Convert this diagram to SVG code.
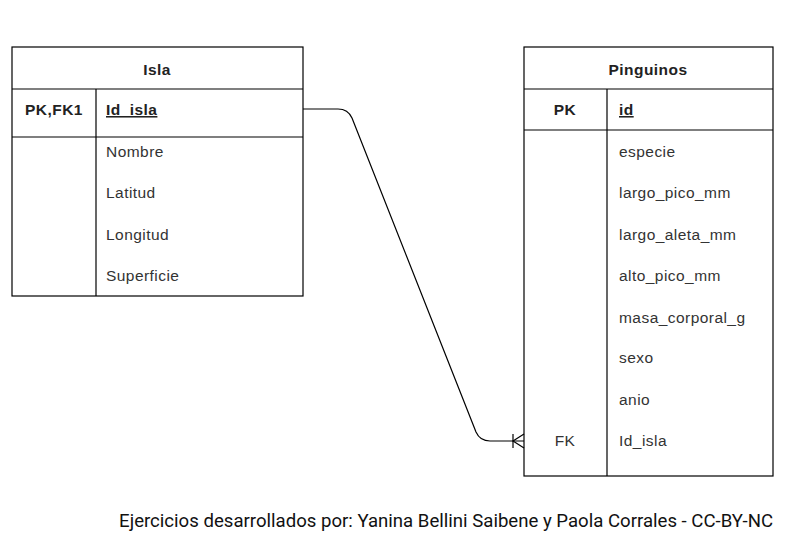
<svg xmlns="http://www.w3.org/2000/svg" width="785" height="540" viewBox="0 0 785 540">
<style>
.box{fill:#fff;stroke:#000;stroke-width:1.2}
.ln{stroke:#000;stroke-width:1.2;fill:none}
.t{font-family:"Liberation Sans",Arial,sans-serif;font-size:15.5px;letter-spacing:0.45px;fill:#333}
.b{font-weight:bold;fill:#222}
.c{text-anchor:middle}
.u{text-decoration:underline}
.cap{font-family:Roboto,"Liberation Sans",sans-serif;font-size:18.6px;fill:#111}
</style>
<rect width="785" height="540" fill="#fff"/>
<g id="isla">
<rect class="box" x="12" y="47" width="291" height="249"/>
<line class="ln" x1="12" y1="89" x2="303" y2="89"/>
<line class="ln" x1="12" y1="137" x2="303" y2="137"/>
<line class="ln" x1="96" y1="89" x2="96" y2="296"/>
<text class="t b c" x="157" y="75">Isla</text>
<text class="t b c" x="54" y="115">PK,FK1</text>
<text class="t b u" x="106" y="115">Id_isla</text>
<text class="t" x="106" y="157">Nombre</text>
<text class="t" x="106" y="198">Latitud</text>
<text class="t" x="106" y="240">Longitud</text>
<text class="t" x="106" y="281">Superficie</text>
</g>
<g id="pinguinos">
<rect class="box" x="524" y="47" width="249" height="429"/>
<line class="ln" x1="524" y1="89" x2="773" y2="89"/>
<line class="ln" x1="524" y1="130" x2="773" y2="130"/>
<line class="ln" x1="607" y1="89" x2="607" y2="476"/>
<text class="t b c" x="648" y="75">Pinguinos</text>
<text class="t b c" x="565" y="115">PK</text>
<text class="t b u" x="619" y="115">id</text>
<text class="t" x="619" y="157">especie</text>
<text class="t" x="619" y="198">largo_pico_mm</text>
<text class="t" x="619" y="240">largo_aleta_mm</text>
<text class="t" x="619" y="281">alto_pico_mm</text>
<text class="t" x="619" y="323">masa_corporal_g</text>
<text class="t" x="619" y="363">sexo</text>
<text class="t" x="619" y="405">anio</text>
<text class="t c" x="565" y="446">FK</text>
<text class="t" x="619" y="446">Id_isla</text>
</g>
<g id="connectors">
<path class="ln" d="M303,109 L338,109 Q348,109 352,118 L476,432 Q480,441 490,441 L524,441"/>
<line class="ln" x1="513" y1="434" x2="513" y2="448"/>
<path class="ln" d="M524,434 L513,441 L524,448"/>
</g>
<text class="cap" x="773" y="527" text-anchor="end">Ejercicios desarrollados por: Yanina Bellini Saibene y Paola Corrales - CC-BY-NC</text>
</svg>
